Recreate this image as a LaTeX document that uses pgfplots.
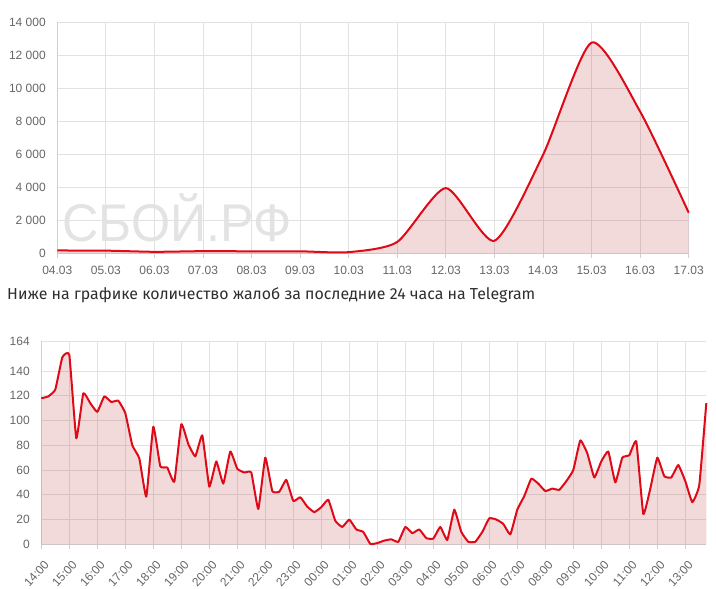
\documentclass[border=0pt]{standalone}
\usepackage{fontspec}
\setmainfont{Liberation Sans}
\newfontfamily\capfont{Fira Sans}
\usepackage{pgfplots}
\usepackage{pgfplotstable}
\pgfplotsset{compat=1.18}
\definecolor{gridc}{HTML}{E2E2E2}
\definecolor{axisc}{HTML}{CFCFCF}
\definecolor{tickc}{HTML}{666666}
\definecolor{linec}{HTML}{DE0A17}
\definecolor{fillc}{RGB}{168,0,5}
\pgfplotstableread{
x y
0 170
1 160
2 90
3 130
4 120
5 120
6 70
7 690
8 3950
9 760
10 5960
11 12770
12 8590
13 2460
}\topdata
\pgfplotstableread{
x y
0 118
1 119.5
2 125
3 151
4 153
5 85.6
6 122
7 114
8 107
9 119.5
10 115
11 116
12 106
13 80
14 69.5
15 38.5
16 95
17 63
18 62
19 50.6
20 97
21 81
22 71
23 88
24 46.6
25 67
26 49
27 75
28 61
29 58
30 58
31 28.5
32 70
33 43
34 42.5
35 52
36 35
37 38
38 30.4
39 26
40 30
41 36
42 19
43 14
44 20
45 12
46 10
47 0.3
48 1
49 3
50 4
51 2
52 14
53 9
54 12
55 5
56 4.6
57 14
58 3.5
59 28
60 10
61 2
62 2
63 10
64 21
65 20
66 16.5
67 8
68 28
69 39
70 53
71 49
72 43
73 45
74 44
75 51
76 60
77 84
78 73.5
79 54
80 67
81 75
82 50
83 70
84 72
85 83
86 24.5
87 45
88 70
89 55
90 54
91 64
92 51
93 34
94 48
95 114
}\botdata
\pgfplotsset{
  common/.style={
    scale only axis,
    anchor=south west,
    font=\fontsize{12}{14}\selectfont,
    tick label style={text=tickc},
    scaled y ticks=false,
    scaled x ticks=false,
    grid=major,
    grid style={gridc,line width=0.8pt},
    axis line style={axisc,line width=0.8pt},
    tick align=outside,
    major tick length=5pt,
    x tick style={axisc,line width=0.8pt},
    y tick style={draw=none},
    clip=false,
  },
  fillplot/.style={draw=none,fill=fillc,fill opacity=0.15,smooth,forget plot},
  lineplot/.style={draw=linec,line width=2pt,no marks,smooth,line join=round,forget plot},
}
\begin{document}
\begin{tikzpicture}[x=1pt,y=1pt]
\path[use as bounding box] (0,0) rectangle (716,589);
\node[anchor=base west,inner sep=0pt,text=black!11,font=\fontsize{53}{60}\selectfont,xscale=0.95] at (62,347) {СБОЙ.РФ};
\begin{axis}[common,
  at={(57.3pt,335.7pt)},width=631.4pt,height=231pt,
  xmin=0,xmax=13,ymin=0,ymax=14000,
  xtick={0,...,13},
  xticklabels={04.03,05.03,06.03,07.03,08.03,09.03,10.03,11.03,12.03,13.03,14.03,15.03,16.03,17.03},
  ytick={0,2000,...,14000},
  yticklabels={0,2 000,4 000,6 000,8 000,10 000,12 000,14 000},
  xticklabel style={yshift=-4pt},
  yticklabel style={xshift=-3pt},
  axis x line*=bottom,
  axis y line*=left,
]
\addplot[fillplot,tension=0.4] table[x=x,y=y] {\topdata} \closedcycle;
\addplot[lineplot,tension=0.4] table[x=x,y=y] {\topdata};
\end{axis}
\node[anchor=base west,inner sep=0pt,text=black!82,font=\capfont\fontsize{15.9}{18}\selectfont] at (7,289) {Ниже на графике количество жалоб за последние 24 часа на Telegram};
\begin{axis}[common,
  at={(41.3pt,44.7pt)},width=665pt,height=203pt,
  xmin=0,xmax=95,ymin=0,ymax=164,
  xtick={0,4,...,92},
  xticklabels={14:00,15:00,16:00,17:00,18:00,19:00,20:00,21:00,22:00,23:00,00:00,01:00,02:00,03:00,04:00,05:00,06:00,07:00,08:00,09:00,10:00,11:00,12:00,13:00},
  ytick={0,20,40,60,80,100,120,140,164},
  yticklabels={0,20,40,60,80,100,120,140,164},
  xticklabel style={rotate=48,anchor=north east,xshift=-3pt,yshift=-5pt},
  yticklabel style={xshift=-3pt},
  axis x line*=bottom,
  axis y line*=left,
]
\addplot[fillplot,tension=0.22] table[x=x,y=y] {\botdata} \closedcycle;
\addplot[lineplot,tension=0.22] table[x=x,y=y] {\botdata};
\end{axis}
\end{tikzpicture}
\end{document}
